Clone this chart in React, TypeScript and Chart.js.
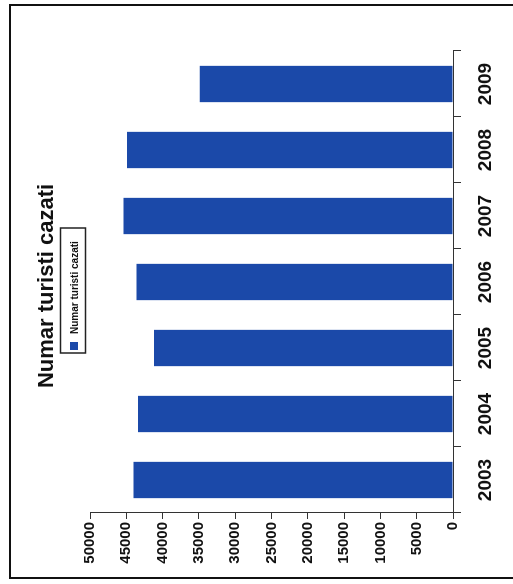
import React, { useEffect, useRef } from "react";
import { Chart, registerables } from "chart.js";

Chart.register(...registerables);

const chartTitle = "Numar turisti cazati";
const seriesLabel = "Numar turisti cazati";
const categories = ["2003", "2004", "2005", "2006", "2007", "2008", "2009"];
const touristCounts = [44000, 43400, 41200, 43600, 45400, 44900, 34900];
const valueMin = 0;
const valueMax = 50000;
const valueStep = 5000;

const FONT = "'Liberation Sans', Arial, sans-serif";
const BAR_COLOR = "#1b49a9";
const INK = "#111111";

const W = 572; // unrotated width (screen height)
const H = 503; // unrotated height (screen width)

const titleLegendPlugin = {
  id: "titleLegend",
  afterDraw(chart: any) {
    const ctx = chart.ctx;
    const area = chart.chartArea;
    const cx = (area.left + area.right) / 2;
    ctx.save();
    // title
    ctx.fillStyle = INK;
    ctx.font = `bold 22px ${FONT}`;
    ctx.textAlign = "center";
    ctx.textBaseline = "alphabetic";
    ctx.fillText(chartTitle, cx - 4, 43);
    // legend box
    const ds = chart.data.datasets[0];
    const bx = cx - 71;
    const bw = 125;
    ctx.strokeStyle = "#222";
    ctx.lineWidth = 1.5;
    ctx.strokeRect(bx, 50.5, bw, 25);
    ctx.fillStyle = ds.backgroundColor;
    ctx.fillRect(bx + 3, 60, 8, 8);
    ctx.fillStyle = INK;
    ctx.font = `bold 10px ${FONT}`;
    ctx.textAlign = "left";
    ctx.fillText(ds.label, bx + 19, 67.5);
    ctx.restore();
  },
};

export default function App() {
  const canvasRef = useRef<HTMLCanvasElement | null>(null);

  useEffect(() => {
    const canvas = canvasRef.current;
    if (!canvas) return;
    const chart = new Chart(canvas, {
      type: "bar",
      data: {
        labels: categories,
        datasets: [
          {
            label: seriesLabel,
            data: touristCounts,
            backgroundColor: BAR_COLOR,
            borderWidth: 0,
            barPercentage: 0.55,
            categoryPercentage: 1,
          },
        ],
      },
      options: {
        animation: false,
        responsive: false,
        devicePixelRatio: 1,
        layout: { padding: { top: 80, right: 45, bottom: 0, left: 0 } },
        plugins: {
          legend: { display: false },
          title: { display: false },
          tooltip: { enabled: false },
        },
        scales: {
          x: {
            type: "category",
            grid: {
              display: true,
              drawOnChartArea: false,
              drawTicks: true,
              tickLength: 8,
              color: "#333",
              offset: true,
            },
            border: { display: true, color: "#333", width: 1 },
            ticks: {
              color: INK,
              font: { family: FONT, size: 19, weight: "bold" },
              padding: 13,
              maxRotation: 0,
              minRotation: 0,
              autoSkip: false,
            },
            afterFit: (s: any) => {
              s.height = 60;
            },
          },
          y: {
            min: valueMin,
            max: valueMax,
            grid: {
              display: true,
              drawOnChartArea: false,
              drawTicks: true,
              tickLength: 6,
              color: "#333",
            },
            border: { display: true, color: "#333", width: 1 },
            ticks: {
              stepSize: valueStep,
              color: INK,
              font: { family: FONT, size: 15, weight: "bold" },
              padding: 3,
              callback: (v: any) => String(v),
            },
            afterFit: (s: any) => {
              s.width = 65;
            },
          },
        },
      },
      plugins: [titleLegendPlugin],
    } as any);
    return () => chart.destroy();
  }, []);

  return (
    <div
      style={{
        position: "fixed",
        left: 0,
        top: 0,
        width: 513,
        height: 584,
        overflow: "hidden",
        background: "#ffffff",
      }}
    >
      <div
        style={{
          position: "absolute",
          left: 9,
          top: 4,
          width: 520,
          height: 575,
          border: "2px solid #111",
          boxSizing: "border-box",
        }}
      />
      <div
        style={{
          position: "absolute",
          left: 10,
          top: 578,
          width: W,
          height: H,
          transformOrigin: "0 0",
          transform: "rotate(-90deg)",
        }}
      >
        <canvas
          ref={canvasRef}
          width={W}
          height={H}
          style={{ width: W, height: H, display: "block" }}
        />
      </div>
    </div>
  );
}
